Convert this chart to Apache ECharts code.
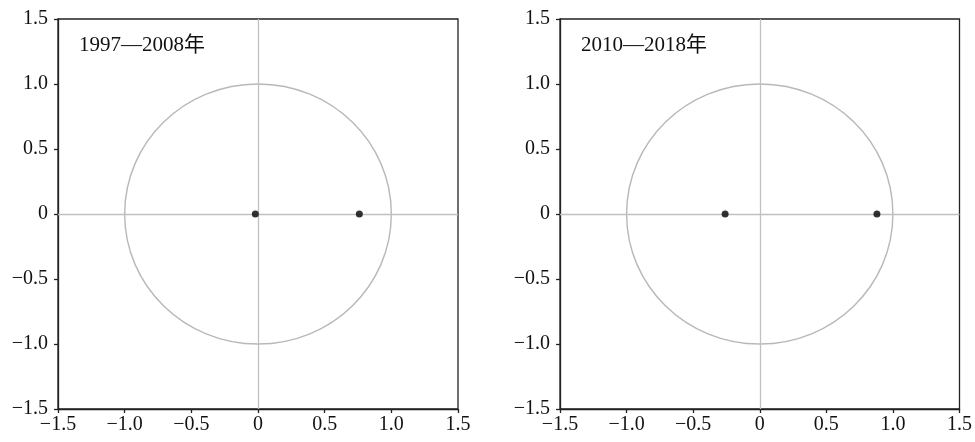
<!DOCTYPE html>
<html>
<head>
<meta charset="utf-8">
<script src="https://cdn.jsdelivr.net/npm/echarts@6/dist/echarts.min.js"></script>
<style>
  html, body { margin: 0; padding: 0; background: #fff; }
  #chart { width: 975px; height: 442px; }
</style>
</head>
<body>
<div id="chart"></div>
<script>
// Panel titles (periods)
const panelTitles = ['1997—2008年', '2010—2018年'];
// Characteristic roots on the real axis, per period: [real, imaginary]
const rootsA = [[-0.02, 0], [0.76, 0]];
const rootsB = [[-0.26, 0], [0.88, 0]];
// Unit circle radius
const unitRadius = [1];
// Axis ticks
const tickValues = [-1.5, -1.0, -0.5, 0, 0.5, 1.0, 1.5];

const FONT = '"Liberation Serif", "Times New Roman", "Noto Sans CJK SC", serif';

function fmt(v) {
  if (Math.abs(v) < 1e-9) return '0';
  const s = Math.abs(v).toFixed(1);
  return v < 0 ? '\u2212' + s : s;
}

function axisCommon(gridIndex, margin) {
  return {
    gridIndex: gridIndex,
    type: 'value',
    min: tickValues[0],
    max: tickValues[tickValues.length - 1],
    interval: 0.5,
    splitLine: { show: false },
    axisLine: { show: true, onZero: false, lineStyle: { color: '#222', width: 1.3 } },
    axisTick: { show: true, inside: false, length: 4, lineStyle: { color: '#222', width: 1.3 } },
    axisLabel: {
      formatter: fmt,
      fontFamily: FONT,
      fontSize: 20,
      color: '#111',
      margin: margin
    }
  };
}

const grids = [
  { left: 58, top: 19, width: 400, height: 390, show: true, borderColor: '#222', borderWidth: 1.3 },
  { left: 560, top: 19, width: 400, height: 390, show: true, borderColor: '#222', borderWidth: 1.3 }
];

function circleSeries(idx) {
  return {
    type: 'custom',
    xAxisIndex: idx,
    yAxisIndex: idx,
    silent: true,
    data: unitRadius.map(r => [0, 0, r]),
    renderItem: function (params, api) {
      const c = api.coord([api.value(0), api.value(1)]);
      const sz = api.size([api.value(2), api.value(2)]);
      return {
        type: 'ellipse',
        shape: { cx: c[0], cy: c[1], rx: sz[0], ry: sz[1] },
        style: { fill: 'none', stroke: '#b8b8b8', lineWidth: 1.4 }
      };
    },
    markLine: {
      silent: true,
      symbol: 'none',
      label: { show: false },
      lineStyle: { color: '#c0c0c0', width: 1.3, type: 'solid' },
      data: [{ xAxis: 0 }, { yAxis: 0 }],
      animation: false
    },
    z: 1
  };
}

function rootSeries(idx, data) {
  return {
    type: 'scatter',
    xAxisIndex: idx,
    yAxisIndex: idx,
    data: data,
    symbol: 'circle',
    symbolSize: 7,
    itemStyle: { color: '#000' },
    z: 5
  };
}

const chart = echarts.init(document.getElementById('chart'), null, { renderer: 'canvas' });
chart.setOption({
  animation: false,
  backgroundColor: '#fff',
  title: [
    { text: panelTitles[0], left: 74, top: 30, textStyle: { fontFamily: FONT, fontSize: 21, fontWeight: 'normal', color: '#111' } },
    { text: panelTitles[1], left: 576, top: 30, textStyle: { fontFamily: FONT, fontSize: 21, fontWeight: 'normal', color: '#111' } }
  ],
  grid: grids,
  xAxis: [axisCommon(0, 6), axisCommon(1, 6)],
  yAxis: [axisCommon(0, 10), axisCommon(1, 10)],
  series: [
    circleSeries(0),
    circleSeries(1),
    rootSeries(0, rootsA),
    rootSeries(1, rootsB)
  ]
});
</script>
</body>
</html>
